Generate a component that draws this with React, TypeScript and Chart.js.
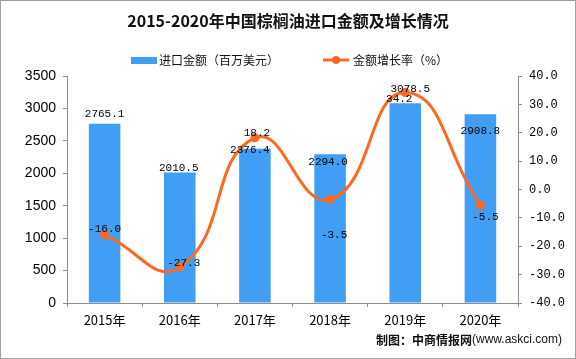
import React, { useEffect, useRef } from "react";
import { Chart, registerables } from "chart.js";

Chart.register(...registerables);

// ---- data ----
const years = ["2015年", "2016年", "2017年", "2018年", "2019年", "2020年"];
const importValues = [2765.1, 2010.5, 2376.4, 2294.0, 3078.5, 2908.8];
const growthRates = [-16.0, -27.3, 18.2, -3.5, 34.2, -5.5];
const leftAxis = { min: 0, max: 3500, step: 500 };
const rightAxis = { min: -40, max: 40, step: 10 };
const titleText = "2015-2020年中国棕榈油进口金额及增长情况";
const barLegend = "进口金额（百万美元）";
const lineLegend = "金额增长率（%）";
const footerCn = "制图：中商情报网";
const footerUrl = "(www.askci.com)";

// ---- label placement (styling) ----
const barLabelShift = [
  [0, -10], [-1, -5], [-5, 1], [-2, 8], [5, -14], [0, 17],
];
const lineLabelShift = [
  [0, -6], [4, -4], [2, -5], [4, 36], [-6, 7], [5, 12],
];

const BLUE = "#409EF4";
const ORANGE = "#FF6820";
const AXIS = "#8c8c8c";
const CJK = '"Noto Sans CJK SC", sans-serif';

const decorPlugin = {
  id: "decor",
  beforeDraw(chart: any) {
    const ctx = chart.ctx;
    ctx.save();
    ctx.fillStyle = "#fff";
    ctx.fillRect(0, 0, chart.width, chart.height);
    ctx.restore();
  },
  afterDraw(chart: any) {
    const ctx = chart.ctx;
    ctx.save();
    // title
    ctx.fillStyle = "#111";
    ctx.font = `bold 16px ${CJK}`;
    ctx.textAlign = "center";
    ctx.textBaseline = "middle";
    ctx.fillText(titleText, 288, 21);
    // legend
    ctx.fillStyle = BLUE;
    ctx.fillRect(131, 57, 26, 7);
    ctx.fillStyle = "#111";
    ctx.font = `12px ${CJK}`;
    ctx.textAlign = "left";
    ctx.fillText(barLegend, 159, 60);
    ctx.strokeStyle = ORANGE;
    ctx.lineWidth = 3;
    ctx.beginPath();
    ctx.moveTo(323, 60);
    ctx.lineTo(349, 60);
    ctx.stroke();
    ctx.fillStyle = ORANGE;
    ctx.beginPath();
    ctx.arc(336, 60, 4, 0, Math.PI * 2);
    ctx.fill();
    ctx.fillStyle = "#111";
    ctx.fillText(lineLegend, 353, 60);
    // footer
    ctx.textAlign = "right";
    ctx.font = `12px "Liberation Sans", sans-serif`;
    const w = ctx.measureText(footerUrl).width;
    ctx.fillText(footerUrl, 562, 340);
    ctx.font = `bold 12px ${CJK}`;
    ctx.fillText(footerCn, 562 - w, 340);
    // frame
    ctx.strokeStyle = "#a0a0a0";
    ctx.lineWidth = 1;
    ctx.strokeRect(0.5, 0.5, chart.width - 1, chart.height - 1);
    ctx.restore();
  },
  afterDatasetsDraw(chart: any) {
    const ctx = chart.ctx;
    ctx.save();
    ctx.fillStyle = "#000";
    ctx.font = `11px "Liberation Mono", monospace`;
    ctx.textAlign = "center";
    ctx.textBaseline = "middle";
    const barMeta = chart.getDatasetMeta(1);
    barMeta.data.forEach((el: any, i: number) => {
      const [dx, dy] = barLabelShift[i];
      ctx.fillText(importValues[i].toFixed(1), el.x + dx, el.y + dy);
    });
    const lineMeta = chart.getDatasetMeta(0);
    lineMeta.data.forEach((el: any, i: number) => {
      const [dx, dy] = lineLabelShift[i];
      ctx.fillText(growthRates[i].toFixed(1), el.x + dx, el.y + dy);
    });
    ctx.restore();
  },
};

export default function App() {
  const ref = useRef<HTMLCanvasElement | null>(null);
  useEffect(() => {
    if (!ref.current) return;
    const chart = new Chart(ref.current, {
      type: "bar",
      data: {
        labels: years,
        datasets: [
          {
            type: "line",
            label: lineLegend,
            data: growthRates,
            yAxisID: "y1",
            borderColor: ORANGE,
            backgroundColor: ORANGE,
            borderWidth: 3,
            pointRadius: 4.5,
            pointBackgroundColor: ORANGE,
            pointBorderWidth: 0,
            tension: 0.5,
            order: 0,
          } as any,
          {
            type: "bar",
            label: barLegend,
            data: importValues,
            yAxisID: "y",
            backgroundColor: BLUE,
            barPercentage: 0.42,
            categoryPercentage: 1,
            order: 1,
          },
        ],
      },
      options: {
        responsive: false,
        animation: false,
        layout: { padding: { top: 76, left: 0, right: 0, bottom: 0 } },
        plugins: {
          legend: { display: false },
          title: { display: false },
          tooltip: { enabled: false },
        },
        scales: {
          x: {
            grid: {
              display: true,
              drawOnChartArea: false,
              drawTicks: true,
              tickLength: 4,
              color: AXIS,
              offset: true,
            },
            border: { display: true, color: AXIS },
            ticks: {
              color: "#000",
              padding: 5,
              font: { family: CJK, size: 13 },
              maxRotation: 0,
            },
            afterFit(scale: any) {
              scale.height = 56;
            },
          },
          y: {
            position: "left",
            min: leftAxis.min,
            max: leftAxis.max,
            grid: {
              display: true,
              drawOnChartArea: false,
              drawTicks: true,
              tickLength: 4,
              color: AXIS,
            },
            border: { display: true, color: AXIS },
            ticks: {
              stepSize: leftAxis.step,
              color: "#000",
              padding: 7,
              font: { family: '"Liberation Sans", Arial, sans-serif', size: 14 },
              callback: (v: any) => String(v),
            },
            afterFit(scale: any) {
              scale.width = 67;
            },
          },
          y1: {
            position: "right",
            min: rightAxis.min,
            max: rightAxis.max,
            grid: {
              display: true,
              drawOnChartArea: false,
              drawTicks: true,
              tickLength: 4,
              color: AXIS,
            },
            border: { display: true, color: AXIS },
            ticks: {
              stepSize: rightAxis.step,
              color: "#000",
              padding: 7,
              font: { family: '"Liberation Mono", monospace', size: 12 },
              callback: (v: any) => Number(v).toFixed(1),
            },
            afterFit(scale: any) {
              scale.width = 58;
            },
          },
        },
      } as any,
      plugins: [decorPlugin],
    });
    return () => chart.destroy();
  }, []);
  return (
    <div style={{ position: "absolute", left: 0, top: 0, width: 576, height: 359 }}>
      <canvas ref={ref} width={576} height={359} style={{ display: "block" }} />
    </div>
  );
}
